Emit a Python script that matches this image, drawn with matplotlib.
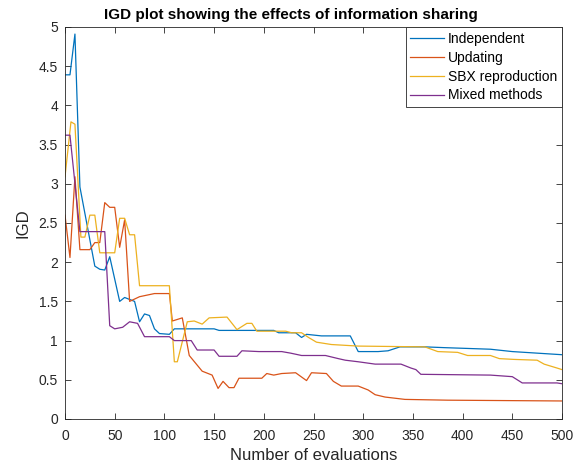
"""IGD comparison of information sharing strategies."""

import matplotlib

matplotlib.use("Agg")
import matplotlib.pyplot as plt

plt.rcParams["font.family"] = ["Liberation Sans", "DejaVu Sans"]

# Data
ind_x = [0, 5, 10, 15, 30, 35, 40, 45, 55, 60, 70, 75, 80, 85, 90, 95, 105, 110,
         150, 155, 210, 215, 232, 238, 243, 258, 287, 295, 315, 325, 337, 362,
         382, 428, 450, 500]
ind_y = [4.39, 4.39, 4.91, 2.96, 1.95, 1.91, 1.90, 2.07, 1.50, 1.55, 1.50, 1.24,
         1.34, 1.32, 1.15, 1.09, 1.08, 1.15, 1.15, 1.13, 1.13, 1.10, 1.10, 1.04,
         1.08, 1.06, 1.06, 0.86, 0.86, 0.87, 0.92, 0.92, 0.91, 0.89, 0.86, 0.82]

upd_x = [0, 5, 10, 15, 25, 30, 35, 40, 45, 50, 55, 60, 65, 75, 90, 105, 108,
         118, 125, 138, 148, 154, 159, 165, 170, 175, 198, 203, 210, 218, 232,
         243, 248, 263, 270, 278, 295, 305, 312, 322, 342, 385, 500]
upd_y = [2.60, 2.06, 3.09, 2.16, 2.16, 2.25, 2.25, 2.76, 2.70, 2.70, 2.19, 2.54,
         1.50, 1.56, 1.60, 1.60, 1.25, 1.29, 0.81, 0.61, 0.56, 0.39, 0.48, 0.40,
         0.40, 0.52, 0.52, 0.58, 0.56, 0.58, 0.59, 0.49, 0.59, 0.58, 0.48, 0.42,
         0.42, 0.37, 0.31, 0.28, 0.25, 0.24, 0.23]

sbx_x = [0, 6, 10, 16, 20, 25, 30, 35, 50, 55, 60, 65, 70, 75, 105, 110, 113,
         123, 130, 138, 145, 163, 173, 183, 188, 193, 222, 228, 238, 245, 253,
         268, 295, 362, 375, 395, 405, 428, 437, 452, 475, 482, 495, 500]
sbx_y = [3.09, 3.79, 3.76, 2.32, 2.32, 2.60, 2.60, 2.12, 2.12, 2.56, 2.56, 2.35,
         2.35, 1.70, 1.70, 0.73, 0.73, 1.24, 1.25, 1.21, 1.29, 1.30, 1.14, 1.22,
         1.22, 1.12, 1.12, 1.10, 1.10, 1.04, 0.98, 0.95, 0.93, 0.92, 0.86, 0.85,
         0.81, 0.81, 0.77, 0.76, 0.75, 0.70, 0.65, 0.63]

mix_x = [0, 5, 15, 40, 45, 50, 58, 65, 73, 80, 105, 110, 127, 133, 150, 155,
         173, 178, 195, 218, 227, 238, 262, 275, 282, 295, 312, 338, 348, 353,
         358, 428, 450, 460, 495, 500]
mix_y = [3.62, 3.62, 2.39, 2.39, 1.19, 1.15, 1.17, 1.24, 1.22, 1.05, 1.05, 1.00,
         1.00, 0.88, 0.88, 0.80, 0.80, 0.87, 0.86, 0.86, 0.84, 0.81, 0.81, 0.77,
         0.75, 0.73, 0.70, 0.70, 0.65, 0.63, 0.57, 0.56, 0.54, 0.46, 0.46, 0.45]

labels = ["Independent", "Updating", "SBX reproduction", "Mixed methods"]
colors = ["#0072bd", "#d95319", "#edb120", "#7e2f8e"]

x_ticks = list(range(0, 501, 50))
y_ticks = [i * 0.5 for i in range(11)]

fig = plt.figure(figsize=(5.82, 4.72), dpi=100)
ax = fig.add_axes([65 / 582, 53 / 472, 497 / 582, 392 / 472])

series = [(ind_x, ind_y), (upd_x, upd_y), (sbx_x, sbx_y), (mix_x, mix_y)]
for (xs, ys), lab, col in zip(series, labels, colors):
    ax.plot(xs, ys, color=col, lw=0.9, label=lab)

ax.set_xlim(0, 500)
ax.set_ylim(0, 5)
ax.set_xticks(x_ticks)
ax.set_yticks(y_ticks)
ax.set_yticklabels([f"{v:g}" for v in y_ticks])
ax.tick_params(direction="in", top=True, right=True, length=4, width=0.6,
               labelsize=10, colors="#262626")
ax.tick_params(axis="x", pad=7)
ax.tick_params(axis="y", pad=5)
for sp in ax.spines.values():
    sp.set_linewidth(0.6)
    sp.set_color("#262626")

ax.set_xlabel("Number of evaluations", fontsize=12, labelpad=4, color="#262626")
ax.set_ylabel("IGD", fontsize=12, labelpad=6, color="#262626")
ax.set_title("IGD plot showing the effects of information sharing",
             fontsize=11, fontweight="bold", pad=6, x=0.455)

leg = ax.legend(loc="upper right", fontsize=10, frameon=True, fancybox=False,
                edgecolor="#262626", framealpha=1, handlelength=2.4,
                handletextpad=0.3, borderpad=0.35, labelspacing=0.35,
                borderaxespad=0.0)
leg.get_frame().set_linewidth(0.6)

fig.savefig("out.png", dpi=100)
